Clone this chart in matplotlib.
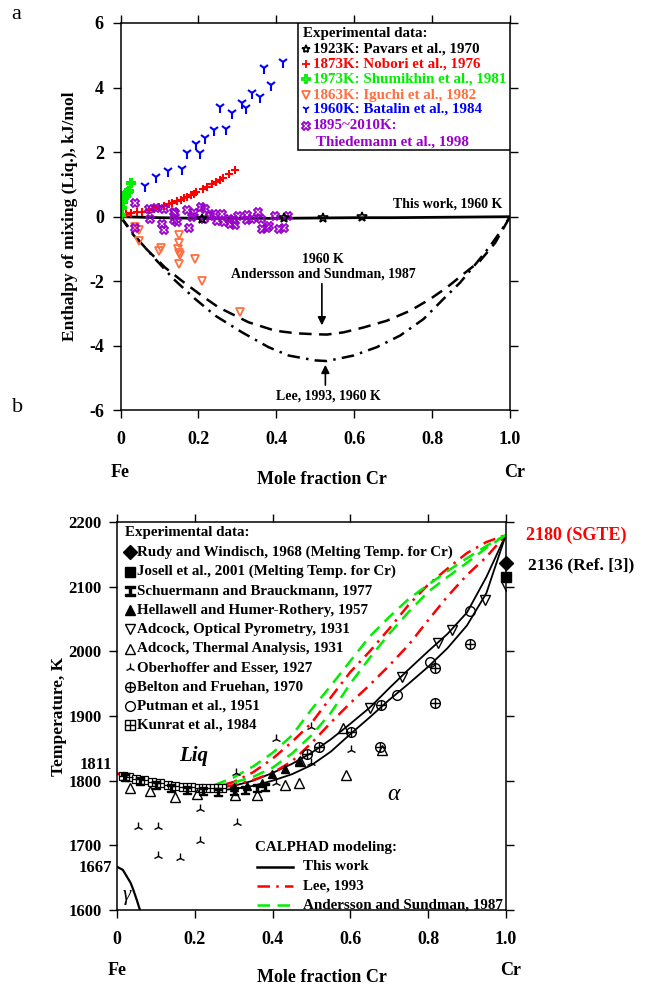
import numpy as np
import matplotlib.pyplot as plt
from matplotlib.patches import Rectangle

plt.rcParams['font.family'] = ['Liberation Serif', 'DejaVu Serif']
plt.rcParams['font.weight'] = 'bold'
plt.rcParams['axes.unicode_minus'] = False

# ---------------- panel a data (kJ/mol) ----------------
pavars_x = [0.21, 0.42, 0.52, 0.62]
pavars_y = [-0.08, -0.05, -0.03, 0.0]

nobori_x = [0.013, 0.026, 0.043, 0.056, 0.073, 0.085, 0.098, 0.111, 0.124, 0.133, 0.145, 0.154,
            0.162, 0.171, 0.180, 0.188, 0.195, 0.212, 0.222, 0.235, 0.246, 0.256, 0.263, 0.278, 0.295]
nobori_y = [0.08, 0.11, 0.14, 0.16, 0.22, 0.24, 0.30, 0.34, 0.39, 0.44, 0.49, 0.52,
            0.57, 0.62, 0.67, 0.70, 0.75, 0.85, 0.93, 1.01, 1.08, 1.14, 1.20, 1.32, 1.45]

shumikhin_x = [0.002, 0.004, 0.007, 0.010, 0.013, 0.015, 0.018, 0.021, 0.026]
shumikhin_y = [0.05, 0.27, 0.45, 0.57, 0.65, 0.73, 0.78, 0.81, 1.04]

iguchi_x = [0.037, 0.047, 0.047, 0.098, 0.103, 0.150, 0.150, 0.148, 0.150, 0.152, 0.150, 0.190, 0.210, 0.308]
iguchi_y = [-0.33, -0.40, -0.76, -1.07, -0.98, -0.57, -0.82, -0.99, -1.12, -1.20, -1.47, -1.32, -1.98, -2.94]

batalin_x = [0.062, 0.092, 0.121, 0.158, 0.171, 0.194, 0.205, 0.216, 0.239, 0.256, 0.272, 0.287,
             0.313, 0.323, 0.337, 0.359, 0.369, 0.386, 0.418]
batalin_y = [0.96, 1.24, 1.41, 1.48, 1.96, 2.24, 1.96, 2.44, 2.70, 3.39, 2.72, 3.21,
             3.53, 3.36, 3.83, 3.70, 4.62, 4.08, 4.78]

thied_x = [0.038, 0.037, 0.073, 0.075, 0.090, 0.111, 0.111, 0.107, 0.137, 0.141, 0.137, 0.144, 0.171,
           0.177, 0.184, 0.188, 0.207, 0.214, 0.216, 0.229, 0.239, 0.248, 0.261, 0.265, 0.278, 0.282,
           0.291, 0.295, 0.302, 0.325, 0.325, 0.338, 0.353, 0.361, 0.363, 0.376, 0.382, 0.397, 0.406,
           0.419, 0.430]
thied_y = [0.42, -0.35, 0.24, -0.07, 0.27, 0.24, -0.42, -0.22, 0.16, 0.11, -0.09, -0.17, 0.21,
           -0.35, -0.01, 0.11, 0.30, -0.07, 0.24, 0.03, 0.09, -0.14, 0.09, -0.17, -0.07, -0.22,
           -0.11, -0.25, 0.01, 0.06, -0.09, -0.07, 0.16, -0.07, -0.38, -0.35, -0.30, 0.01, -0.38,
           -0.35, 0.01]

thiswork_a_x = [0.0, 0.1, 0.2, 0.3, 0.4, 0.5, 0.6, 0.7, 0.8, 0.9, 1.0]
thiswork_a_y = [0.0, -0.03, -0.05, -0.05, -0.05, -0.04, -0.03, -0.03, -0.02, -0.01, 0.0]

anders_a_x = [0.0, 0.034, 0.068, 0.115, 0.158, 0.209, 0.252, 0.329, 0.397, 0.45, 0.5, 0.53, 0.573,
              0.624, 0.684, 0.744, 0.795, 0.838, 0.88, 0.923, 0.962, 1.0]
anders_a_y = [0.0, -0.58, -1.02, -1.58, -1.99, -2.45, -2.81, -3.27, -3.53, -3.61, -3.64, -3.65, -3.58,
              -3.43, -3.22, -2.91, -2.55, -2.19, -1.78, -1.37, -0.81, 0.0]

lee_a_x = [0.0, 0.043, 0.09, 0.137, 0.192, 0.244, 0.312, 0.38, 0.432, 0.5, 0.53, 0.598, 0.658,
           0.718, 0.778, 0.829, 0.872, 0.915, 0.949, 0.979, 1.0]
lee_a_y = [0.0, -0.68, -1.32, -1.94, -2.55, -3.07, -3.58, -4.04, -4.30, -4.45, -4.47, -4.30, -4.04,
           -3.68, -3.17, -2.55, -2.04, -1.42, -0.91, -0.40, 0.0]

# ---------------- panel b data (K) ----------------
xg = [0.0, 0.05, 0.1, 0.15, 0.2, 0.25, 0.3, 0.35, 0.4, 0.45, 0.5, 0.55, 0.6, 0.65, 0.7, 0.75,
      0.8, 0.85, 0.9, 0.95, 1.0]
liq_this = [1811, 1803, 1796, 1791, 1789, 1789, 1792, 1800, 1812, 1826, 1843, 1864, 1888, 1913,
            1943, 1972, 2000, 2027, 2060, 2115, 2180]
sol_this = [1811, 1802, 1795, 1789, 1786, 1785, 1787, 1792, 1800, 1810, 1824, 1845, 1872, 1898,
            1925, 1950, 1976, 2005, 2040, 2090, 2180]
liq_lee = [1811, 1803, 1796, 1791, 1789, 1790, 1798, 1813, 1834, 1860, 1889, 1929, 1968, 2000,
           2035, 2072, 2103, 2128, 2152, 2169, 2180]
sol_lee = [1811, 1803, 1796, 1791, 1788, 1789, 1793, 1801, 1812, 1830, 1858, 1890, 1920, 1948,
           1978, 2010, 2048, 2085, 2118, 2146, 2180]
liq_and = [1811, 1803, 1796, 1791, 1789, 1793, 1805, 1822, 1843, 1870, 1910, 1947, 1985, 2023,
           2053, 2081, 2103, 2124, 2144, 2163, 2180]
sol_and = [1811, 1803, 1796, 1791, 1788, 1791, 1797, 1806, 1820, 1842, 1870, 1905, 1950, 1990,
           2027, 2061, 2092, 2115, 2137, 2160, 2180]

gamma_x = [0.0, 0.015, 0.025, 0.035, 0.042, 0.05, 0.059]
gamma_t = [1667, 1662, 1652, 1642, 1631, 1617, 1600]

rudy_x, rudy_t = [1.0], [2136]
josell_x, josell_t = [1.0], [2115]
schuer_x = [0.02, 0.06, 0.10, 0.14, 0.18, 0.22, 0.26, 0.30, 0.33, 0.36, 0.38]
schuer_t = [1805, 1800, 1793, 1789, 1786, 1784, 1783, 1784, 1786, 1788, 1790]
hella_x = [0.30, 0.335, 0.372, 0.398, 0.432, 0.468]
hella_t = [1790, 1792, 1796, 1810, 1818, 1831]
adc_opt_x = [0.650, 0.732, 0.826, 0.862, 0.946, 1.0]
adc_opt_t = [1912, 1961, 2013, 2033, 2080, 2101]
adc_th_x = [0.033, 0.085, 0.149, 0.205, 0.303, 0.359, 0.432, 0.469, 0.470, 0.582, 0.590, 0.681]
adc_th_t = [1788, 1784, 1775, 1780, 1778, 1778, 1793, 1797, 1830, 1881, 1809, 1847]
ober_x = [0.055, 0.106, 0.106, 0.162, 0.213, 0.213, 0.308, 0.306, 0.409, 0.41, 0.498, 0.5, 0.603]
ober_t = [1729, 1729, 1684, 1681, 1756, 1706, 1735, 1812, 1864, 1796, 1883, 1827, 1847]
belton_x = [0.489, 0.520, 0.601, 0.676, 0.679, 0.818, 0.818, 0.907]
belton_t = [1842, 1852, 1876, 1852, 1917, 1920, 1974, 2011]
putman_x = [0.721, 0.804, 0.907]
putman_t = [1933, 1984, 2063]
kunrat_x = [0.016, 0.03, 0.05, 0.07, 0.09, 0.11, 0.13, 0.15, 0.17, 0.19, 0.21, 0.23, 0.25, 0.27]
kunrat_t = [1808, 1806, 1803, 1801, 1798, 1796, 1794, 1792, 1791, 1790, 1789, 1789, 1789, 1788]

xticks = [0, 0.2, 0.4, 0.6, 0.8, 1.0]
xticklabels = ['0', '0.2', '0.4', '0.6', '0.8', '1.0']

ibeam = [(-0.5, -0.5), (0.5, -0.5), (0.5, -0.3), (0.15, -0.3), (0.15, 0.3), (0.5, 0.3), (0.5, 0.5),
         (-0.5, 0.5), (-0.5, 0.3), (-0.15, 0.3), (-0.15, -0.3), (-0.5, -0.3), (-0.5, -0.5)]

orange = '#ff6f40'
purple = '#9a00cc'
green = '#00ee00'
fs_leg = 10.8

fig = plt.figure(figsize=(6.48, 9.9), dpi=100)
ax1 = fig.add_axes([0.186, 0.5854, 0.601, 0.3914])
ax2 = fig.add_axes([0.1806, 0.0808, 0.600, 0.3919])

for ax in (ax1, ax2):
    ax.tick_params(direction='out', top=True, right=True, length=6, width=1, labelsize=13)
    ax.tick_params(axis='x', pad=9)
    ax.tick_params(axis='y', pad=6)
    for s in ax.spines.values():
        s.set_linewidth(1.1)
    ax.set_xlim(0, 1)
    ax.set_xticks(xticks)
    ax.set_xticklabels(xticklabels)
ax2.tick_params(axis='y', labelsize=12, pad=5)

# ---------------- panel a ----------------
ax1.set_ylim(-6, 6)
ax1.set_yticks([-6, -4, -2, 0, 2, 4, 6])
ax1.plot(thiswork_a_x, thiswork_a_y, color='black', lw=2)
ax1.plot(anders_a_x, anders_a_y, color='black', lw=1.8, dashes=(5, 3))
ax1.plot(lee_a_x, lee_a_y, color='black', lw=1.8, dashes=(5, 2.5, 1, 2.5))

ms = 6
ax1.plot(nobori_x, nobori_y, '+', color='red', ms=ms, mew=1.5, ls='none')
ax1.plot(shumikhin_x, shumikhin_y, 'P', color=green, mfc='none', ms=ms, mew=1.5, ls='none')
ax1.plot(iguchi_x, iguchi_y, 'v', color=orange, mfc='none', ms=ms, mew=1.3, ls='none')
ax1.plot(batalin_x, batalin_y, '1', color='blue', ms=8, mew=1.5, ls='none')
ax1.plot(thied_x, thied_y, 'X', color=purple, mfc='none', ms=ms, mew=1.3, ls='none')
ax1.plot(pavars_x, pavars_y, '*', color='black', mfc='none', ms=7, mew=1.2, ls='none')

ax1.set_ylabel('Enthalpy of mixing (Liq.), kJ/mol', fontsize=12.5, fontweight='bold')
ax1.yaxis.set_label_coords(-0.108, 0.5)
ax1.text(0.0, -0.159, 'Fe', transform=ax1.transAxes, ha='center', va='center', fontsize=13)
ax1.text(1.013, -0.159, 'Cr', transform=ax1.transAxes, ha='center', va='center', fontsize=13)
ax1.text(0.517, -0.179, 'Mole fraction Cr', transform=ax1.transAxes, ha='center', va='center', fontsize=13)
fig.text(0.018, 0.985, 'a', fontsize=16, fontweight='normal', va='center')

ax1.text(0.98, 0.2, 'This work, 1960 K', ha='right', va='bottom', fontsize=10)
ax1.text(0.52, -1.32, '1960 K', ha='center', va='center', fontsize=10)
ax1.text(0.52, -1.77, 'Andersson and Sundman, 1987', ha='center', va='center', fontsize=10)
ax1.annotate('', xy=(0.517, -3.45), xytext=(0.517, -1.99),
             arrowprops=dict(arrowstyle='-|>', color='black', lw=1.2, mutation_scale=12))
ax1.annotate('', xy=(0.526, -4.5), xytext=(0.526, -5.3),
             arrowprops=dict(arrowstyle='-|>', color='black', lw=1.2, mutation_scale=12))
ax1.text(0.534, -5.55, 'Lee, 1993, 1960 K', ha='center', va='center', fontsize=10)

# legend box panel a
ax1.add_patch(Rectangle((0.456, 0.672), 0.544, 0.328, transform=ax1.transAxes,
                        facecolor='white', edgecolor='black', lw=1.1, zorder=5))
ax1.text(0.468, 0.972, 'Experimental data:', transform=ax1.transAxes, va='center', fontsize=fs_leg, zorder=6)
leg_a = [('*', 'black', '1923K: Pavars et al., 1970', 0.932),
         ('+', 'red', '1873K: Nobori et al., 1976', 0.894),
         ('P', green, '1973K: Shumikhin et al., 1981', 0.855),
         ('v', orange, '1863K: Iguchi et al., 1982', 0.814),
         ('1', 'blue', '1960K: Batalin et al., 1984', 0.777),
         ('X', purple, '1895~2010K:', 0.735)]
for mk, col, lab, fy in leg_a:
    ax1.plot([0.476], [fy], mk, color=col, mfc='none', ms=6, mew=1.3, transform=ax1.transAxes,
             clip_on=False, zorder=6)
    ax1.text(0.494, fy, lab, color=col, transform=ax1.transAxes, va='center', fontsize=fs_leg, zorder=6)
ax1.text(0.502, 0.694, 'Thiedemann et al., 1998', color=purple, transform=ax1.transAxes,
         va='center', fontsize=fs_leg, zorder=6)

# ---------------- panel b ----------------
ax2.set_ylim(1600, 2200)
ax2.set_yticks([1600, 1700, 1800, 1900, 2000, 2100, 2200])
ax2.plot(xg, liq_this, color='black', lw=1.3)
ax2.plot(xg, sol_this, color='black', lw=1.3)
ax2.plot(xg, liq_lee, color='red', lw=1.8, dashes=(5, 2.5, 1, 2.5))
ax2.plot(xg, sol_lee, color='red', lw=1.8, dashes=(5, 2.5, 1, 2.5))
ax2.plot(xg[5:], liq_and[5:], color=green, lw=1.8, dashes=(5, 3))
ax2.plot(xg[5:], sol_and[5:], color=green, lw=1.8, dashes=(5, 3))
ax2.plot(gamma_x, gamma_t, color='black', lw=1.6)

kw = dict(ls='none', color='black', zorder=4)
ax2.plot(kunrat_x, kunrat_t, 's', mfc='white', ms=6, mew=0.9, **kw)
ax2.plot(kunrat_x, kunrat_t, '+', ms=6, mew=0.9, **kw)
ax2.plot(schuer_x, schuer_t, marker=ibeam, ms=6, **kw)
ax2.plot(hella_x, hella_t, '^', ms=6, **kw)
ax2.plot(adc_opt_x, adc_opt_t, 'v', mfc='none', ms=6.5, mew=1, **kw)
ax2.plot(adc_th_x, adc_th_t, '^', mfc='none', ms=6.5, mew=1, **kw)
ax2.plot(ober_x, ober_t, '2', ms=7, mew=1, **kw)
ax2.plot(belton_x, belton_t, 'o', mfc='none', ms=7, mew=1, **kw)
ax2.plot(belton_x, belton_t, '+', ms=7, mew=1, **kw)
ax2.plot(putman_x, putman_t, 'o', mfc='none', ms=7, mew=1, **kw)
ax2.plot(rudy_x, rudy_t, 'D', ms=7, clip_on=False, **kw)
ax2.plot(josell_x, josell_t, 's', ms=7, clip_on=False, **kw)

ax2.set_ylabel('Temperature, K', fontsize=12.5, fontweight='bold')
ax2.yaxis.set_label_coords(-0.128, 0.5)
ax2.text(-0.012, 1824, '1811', ha='right', va='center', fontsize=12)
ax2.text(-0.012, 1665, '1667', ha='right', va='center', fontsize=12)
ax2.text(0.0, -0.155, 'Fe', transform=ax2.transAxes, ha='center', va='center', fontsize=13)
ax2.text(1.013, -0.155, 'Cr', transform=ax2.transAxes, ha='center', va='center', fontsize=13)
ax2.text(0.528, -0.175, 'Mole fraction Cr', transform=ax2.transAxes, ha='center', va='center', fontsize=13)
fig.text(0.018, 0.588, 'b', fontsize=16, fontweight='normal', va='center')

ax2.text(1.051, 2180, '2180 (SGTE)', color='red', va='center', fontsize=13)
ax2.text(1.057, 2133, '2136 (Ref. [3])', color='black', va='center', fontsize=12.5)
ax2.text(0.198, 1838, 'Liq', ha='center', va='center', fontsize=15, style='italic')
ax2.text(0.71, 1778, 'α', ha='center', va='center', fontsize=17, style='italic', fontweight='normal')
ax2.text(0.026, 1623, 'γ', ha='center', va='center', fontsize=15, style='italic', fontweight='normal')

# legend panel b
ax2.text(0.0206, 0.972, 'Experimental data:', transform=ax2.transAxes, va='center', fontsize=fs_leg)
leg_b = [('Rudy and Windisch, 1968 (Melting Temp. for Cr)', 0.923),
         ('Josell et al., 2001 (Melting Temp. for Cr)', 0.872),
         ('Schuermann and Brauckmann, 1977', 0.822),
         ('Hellawell and Humer-Rothery, 1957', 0.772),
         ('Adcock, Optical Pyrometry, 1931', 0.723),
         ('Adcock, Thermal Analysis, 1931', 0.674),
         ('Oberhoffer and Esser, 1927', 0.624),
         ('Belton and Fruehan, 1970', 0.576),
         ('Putman et al., 1951', 0.526),
         ('Kunrat et al., 1984', 0.477)]
leg_mk = [dict(marker='D'), dict(marker='s'), dict(marker=ibeam), dict(marker='^'),
          dict(marker='v', mfc='none'), dict(marker='^', mfc='none'), dict(marker='2'),
          dict(marker='o', mfc='none'), dict(marker='o', mfc='none'), dict(marker='s', mfc='none')]
for (lab, fy), mk in zip(leg_b, leg_mk):
    ax2.plot([0.033], [fy], color='black', ms=7, mew=1, ls='none', transform=ax2.transAxes, **mk)
    ax2.text(0.051, fy, lab, transform=ax2.transAxes, va='center', fontsize=fs_leg)
ax2.plot([0.033], [0.576], '+', color='black', ms=7, mew=1, transform=ax2.transAxes)
ax2.plot([0.033], [0.477], '+', color='black', ms=7, mew=1, transform=ax2.transAxes)

ax2.text(0.355, 0.160, 'CALPHAD modeling:', transform=ax2.transAxes, va='center', fontsize=fs_leg)
calphad = [('This work', 'black', None, 0.111),
           ('Lee, 1993', 'red', (5, 2.5, 1, 2.5), 0.062),
           ('Andersson and Sundman, 1987', green, (5, 3), 0.013)]
for lab, col, ds, fy in calphad:
    ln, = ax2.plot([0.36, 0.452], [fy, fy], color=col, lw=1.8, transform=ax2.transAxes)
    if ds:
        ln.set_dashes(ds)
    ax2.text(0.478, fy, lab, transform=ax2.transAxes, va='center', fontsize=fs_leg)

fig.savefig('out.png', dpi=100)
